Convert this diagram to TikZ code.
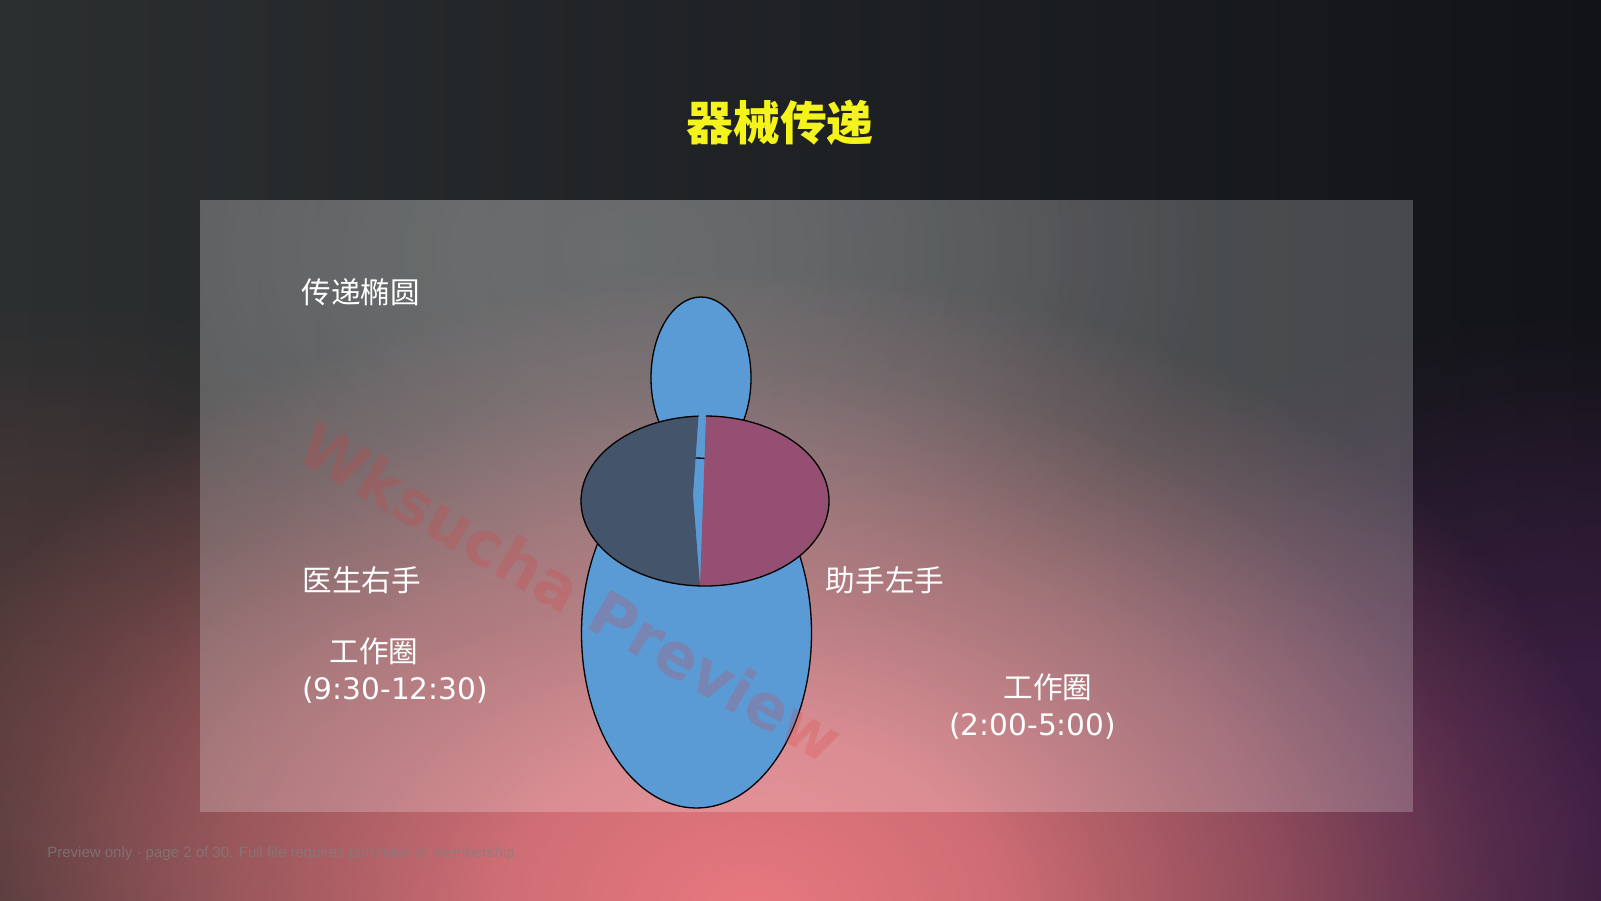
\documentclass[tikz,border=0pt]{standalone}
\usepackage{fontspec}
\setmainfont{DejaVu Sans}
\newfontfamily\cjk{Noto Sans CJK SC}
\newfontfamily\notefont{Liberation Sans}
\usepackage{xcolor}
\usepackage{tikz}
\usetikzlibrary{fadings}

\definecolor{bgleft}{HTML}{2C2F30}
\definecolor{bgright}{HTML}{111317}
\definecolor{glowpink}{HTML}{E87880}
\definecolor{glowbrown}{HTML}{6A4040}
\definecolor{glowpurple}{HTML}{3E1F45}
\definecolor{ovalblue}{HTML}{5B9BD5}
\definecolor{leftslate}{HTML}{44546A}
\definecolor{rightplum}{HTML}{954F72}
\definecolor{titleyellow}{HTML}{F4F41C}
\definecolor{markred}{HTML}{E03A3A}

\pgfdeclareradialshading{glowmask}{\pgfpointorigin}{color(0bp)=(white); color(7bp)=(white!88!black); color(15bp)=(white!52!black); color(21bp)=(white!16!black); color(25bp)=(black); color(50bp)=(black)}
\pgfdeclarefading{softglow}{\pgfuseshading{glowmask}}

\begin{document}
\begin{tikzpicture}[x=0.5pt, y=-0.5pt,
  oval/.style={fill=ovalblue, draw=black, line width=0.65pt},
  halfoval/.style={draw=black, line width=0.65pt},
  hand/.style={text=white, anchor=west, inner sep=0pt, font=\fontsize{14.8}{18.5}\selectfont\cjk},
  ring/.style={text=white, anchor=west, inner sep=0pt, align=left, font=\fontsize{14.8}{18.5}\selectfont}]

\useasboundingbox (0,0) rectangle (1601,900);

\shade[left color=bgleft, right color=bgright] (0,0) rectangle (1601,900);
\fill[glowbrown, fill opacity=0.6, path fading=softglow] (40,720) ellipse [x radius=520, y radius=420];
\fill[glowpurple, path fading=softglow] (1580,820) ellipse [x radius=620, y radius=520];
\fill[glowpink, path fading=softglow] (750,910) ellipse [x radius=880, y radius=640];

\fill[white, fill opacity=0.22] (200,200) rectangle (1413,812);
\begin{scope}
  \clip (200,200) rectangle (1413,812);
  \fill[white, fill opacity=0.14, path fading=softglow] (620,250) ellipse [x radius=600, y radius=400];
\end{scope}

\node[font=\fontsize{23.4}{28}\selectfont\cjk\bfseries, text=titleyellow] (title) at (780,123) {器械传递};

\draw[oval] (701,378) ellipse [x radius=50, y radius=81];
\draw[oval] (696.5,633) ellipse [x radius=115, y radius=175];
\begin{scope}
  \clip (560,390) -- (698.5,390) -- (698.5,416) -- (693,495) -- (700,586) -- (700,610) -- (560,610) -- cycle;
  \draw[halfoval, fill=leftslate] (705,501) ellipse [x radius=124, y radius=85];
\end{scope}
\begin{scope}
  \clip (706,390) -- (706,416) -- (700,586) -- (700,610) -- (850,610) -- (850,390) -- cycle;
  \draw[halfoval, fill=rightplum] (705,501) ellipse [x radius=124, y radius=85];
\end{scope}

\node[rotate=-30, font=\bfseries\fontsize{31}{31}\selectfont, text=markred, text opacity=0.22] (mark) at (571,592) {Wksucha Preview};

\node[hand] (ellipse) at (301,292) {传递椭圆};
\node[hand] (doctor) at (302,580) {医生右手};
\node[hand] (nurse) at (825.5,580) {助手左手};
\node[ring] (morning) at (302,670.5) {\hspace*{13.5pt}{\cjk 工作圈}\\(9:30-12:30)};
\node[ring] (afternoon) at (949,706.5) {\hspace*{27pt}{\cjk 工作圈}\\(2:00-5:00)};

\node[anchor=west, inner sep=0pt, font=\notefont\fontsize{7.5}{9}\selectfont, text=gray, text opacity=0.7] (note) at (47,854) {Preview only · page 2 of 30. Full file requires purchase or membership.};

\end{tikzpicture}
\end{document}
